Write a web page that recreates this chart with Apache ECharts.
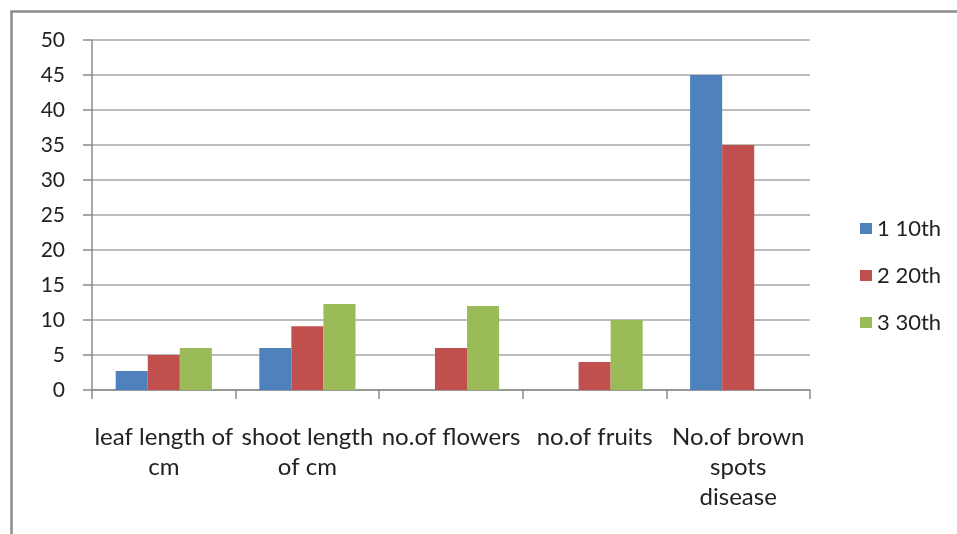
<!DOCTYPE html>
<html>
<head>
<meta charset="utf-8">
<script src="https://cdn.jsdelivr.net/npm/echarts@6/dist/echarts.min.js"></script>
<style>html,body{margin:0;padding:0;background:#fff}#c{width:957px;height:534px}</style>
</head>
<body>
<div id="c"></div>
<script>
const categories = ["leaf length of\ncm", "shoot length\nof cm", "no.of flowers", "no.of fruits", "No.of brown\nspots\ndisease"];
const seriesNames = ["1 10th", "2 20th", "3 30th"];
const s1 = [2.7, 6, 0, 0, 45];
const s2 = [5, 9.1, 6, 4, 35];
const s3 = [6, 12.3, 12, 10, null];
const yTicks = [0, 5, 10, 15, 20, 25, 30, 35, 40, 45, 50];

const colors = ["#4F81BD", "#C0504D", "#9BBB59"];
const font = "Lato, 'Open Sans', sans-serif";
const chart = echarts.init(document.getElementById('c'));
chart.setOption({
  animation: false,
  backgroundColor: '#fff',
  color: colors,
  graphic: [{
    type: 'rect', left: 9, top: 9,
    shape: { width: 1000, height: 600 },
    style: { fill: 'none', stroke: '#8c8c8c', lineWidth: 2.5 }
  }],
  grid: { left: 92, right: 147, top: 40, bottom: 144 },
  legend: {
    orient: 'vertical', left: 855, top: 212,
    icon: 'rect', itemWidth: 12, itemHeight: 11, itemGap: 24, itemTextGap: 10,
    textStyle: { fontFamily: font, fontSize: 22, color: '#222', lineHeight: 23 },
    data: seriesNames
  },
  xAxis: {
    type: 'category', data: categories,
    axisLine: { lineStyle: { color: '#8c8c8c', width: 1.5 } },
    axisTick: { show: true, length: 9, lineStyle: { color: '#8c8c8c', width: 1.5 } },
    axisLabel: { interval: 0, margin: 32, fontFamily: font, fontSize: 24, color: '#222', lineHeight: 30 }
  },
  yAxis: {
    type: 'value', min: 0, max: 50, interval: 5,
    axisLine: { show: true, lineStyle: { color: '#8c8c8c', width: 1.5 } },
    axisTick: { show: true, length: 9, lineStyle: { color: '#8c8c8c', width: 1.5 } },
    splitLine: { lineStyle: { color: '#a6a6a6', width: 1.5 } },
    axisLabel: { margin: 27, fontFamily: font, fontSize: 21, color: '#222',
      formatter: v => yTicks.includes(v) ? String(v) : '' }
  },
  series: [
    { name: seriesNames[0], type: 'bar', data: s1, barGap: '0%', barCategoryGap: '33%' },
    { name: seriesNames[1], type: 'bar', data: s2, barGap: '0%', barCategoryGap: '33%' },
    { name: seriesNames[2], type: 'bar', data: s3, barGap: '0%', barCategoryGap: '33%' }
  ]
});
</script>
</body>
</html>
